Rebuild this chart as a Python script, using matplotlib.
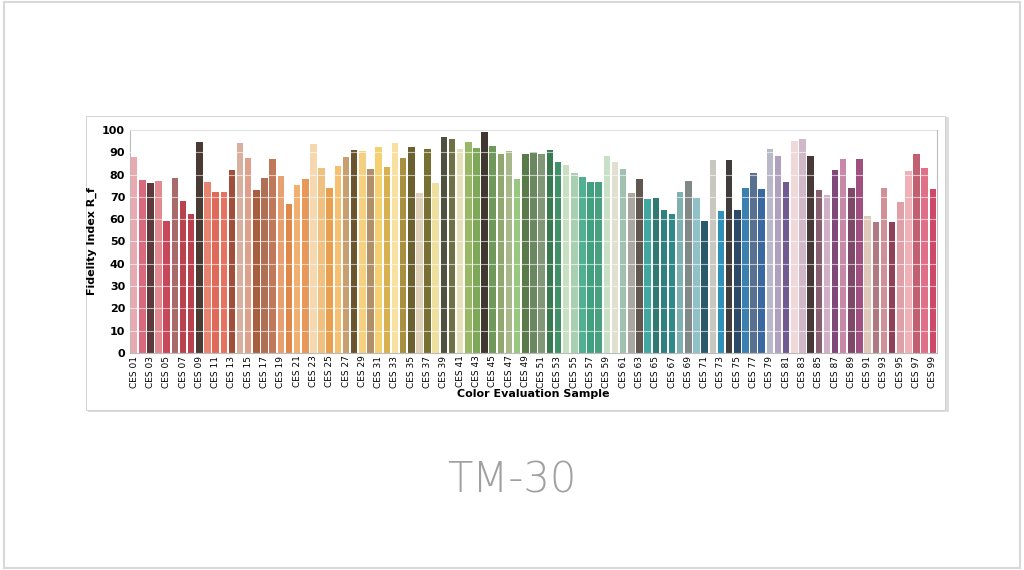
import numpy as np
import matplotlib
matplotlib.use("Agg")
import matplotlib.pyplot as plt
from matplotlib.patches import Rectangle

LABELS = [f"CES {i:02d}" for i in range(1, 100)]
VALUES = [88, 77.5, 76, 77, 59, 78.5, 68, 62.5, 94.5, 76.5,
          72, 72, 82, 94, 87.5, 73, 78.5, 87, 79.5, 67,
          75.5, 78, 93.5, 83, 74, 84, 88, 91, 90.5, 82.5,
          92.5, 83.5, 94, 87.5, 92.5, 71.5, 91.5, 76, 97, 96,
          91.5, 94.5, 92, 99, 93, 89, 90.5, 78, 89, 90,
          89, 91, 85.5, 84.5, 80.5, 79, 76.5, 76.5, 88.5, 85.5,
          82.5, 71.5, 78, 69, 69.5, 64, 62.5, 72, 77, 69.5,
          59, 86.5, 63.5, 86.5, 64, 74, 80.5, 73.5, 91.5, 88.5,
          76.5, 95, 96, 88.5, 73, 71, 82, 87, 74, 87,
          61.5, 58.5, 74, 58.5, 67.5, 81.5, 89, 83, 73.5]
COLORS = ["#e9a9b0", "#d96a7e", "#5c3a3c", "#e38a91", "#c8475a", "#a86a6a", "#b8434e", "#b8404f", "#4a3a34", "#e8836f",
          "#e06a5a", "#e5735f", "#a0503a", "#d8b0a0", "#dea08a", "#a85f3f", "#b07055", "#c0785a", "#e8a070", "#e0884a",
          "#f0b070", "#e89858", "#f5d8b0", "#f0c080", "#e8a050", "#f5c070", "#c8a070", "#6a5530", "#f5d080", "#b0906a",
          "#f5d070", "#d8b050", "#f8e0a0", "#a89040", "#6a6030", "#e0d0b8", "#787030", "#f0e0a0", "#505040", "#707048",
          "#e8e0b8", "#98b868", "#7ca858", "#403830", "#70985a", "#90a870", "#a8b888", "#98c880", "#5a7a4a", "#6a8860",
          "#809878", "#3a7a50", "#409068", "#c8e0c0", "#a8d0b0", "#50b090", "#40a080", "#48a080", "#c8e0c8", "#e0e0d0",
          "#a0c0b0", "#a8a8a0", "#605850", "#40a8a0", "#307870", "#308080", "#308888", "#80b0b0", "#808888", "#90c0c8",
          "#2a5a6a", "#c8c8c0", "#3090b8", "#403c3c", "#2a4a68", "#3a80b0", "#5a7090", "#3a68a0", "#b8b8c8", "#b0a0c0",
          "#705a90", "#f0d8d8", "#d0b8c8", "#483838", "#886070", "#d0b0c8", "#804878", "#c888a8", "#804868", "#a05080",
          "#e0c8b8", "#b07880", "#d09098", "#904058", "#e0a0a8", "#f0b0b8", "#c06070", "#e07088", "#d04868"]

fig = plt.figure(figsize=(10.24, 5.7), dpi=100)
fig.patch.set_facecolor("white")

# slide frame and chart card (kept behind the axes)
fig.patches.append(Rectangle((0.004, 0.004), 0.992, 0.992, transform=fig.transFigure,
                             facecolor="white", edgecolor="#d8d8d8", lw=1.5, zorder=-10))
fig.patches.append(Rectangle((0.086, 0.277), 0.841, 0.518, transform=fig.transFigure,
                             facecolor="#dddddd", edgecolor="none", zorder=-9))
fig.patches.append(Rectangle((0.084, 0.281), 0.839, 0.516, transform=fig.transFigure,
                             facecolor="white", edgecolor="#cccccc", lw=0.6, zorder=-8))

ax = fig.add_axes([0.127, 0.381, 0.788, 0.391])
x = np.arange(len(VALUES))
ax.bar(x, VALUES, width=0.8, color=COLORS, zorder=2)
ax.set_xlim(-0.5, len(VALUES) - 0.5)
ax.set_ylim(0, 100)
ax.set_yticks(range(0, 101, 10))
ax.set_xticks(x[::2])
ax.set_xticklabels(LABELS[::2], rotation=90, fontsize=6.5)
ax.tick_params(axis="y", labelsize=8, length=0)
ax.tick_params(axis="x", length=0, pad=2)
for lbl in ax.get_yticklabels():
    lbl.set_fontweight("bold")
ax.yaxis.grid(True, color="white", lw=0.8, alpha=0.6, zorder=3)
ax.set_axisbelow(False)
for s in ax.spines.values():
    s.set_color("#bbbbbb")
    s.set_linewidth(0.8)
ax.set_ylabel("Fidelity Index R_f", fontsize=8, fontweight="bold", labelpad=4)
ax.set_xlabel("Color Evaluation Sample", fontsize=8, fontweight="bold", labelpad=1)

fig.text(0.5, 0.158, "TM-30", ha="center", va="center", fontsize=30, color="#a0a0a0",
         fontweight="light")

fig.savefig("out.png", dpi=100)
